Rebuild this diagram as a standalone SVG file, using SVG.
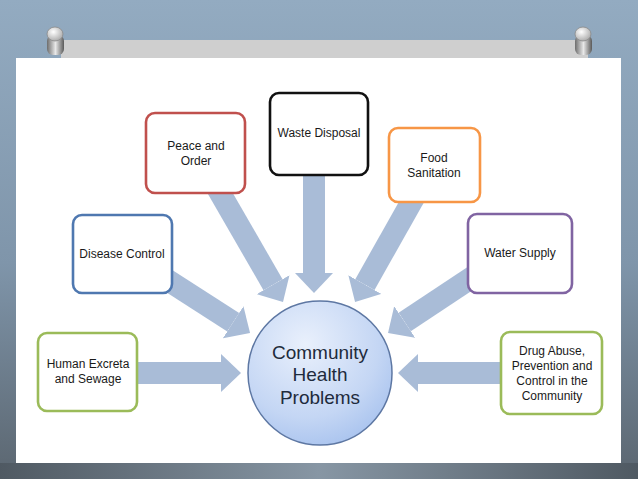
<svg xmlns="http://www.w3.org/2000/svg" width="638" height="479" viewBox="0 0 638 479">
  <style>
    .box { fill: #ffffff; stroke-width: 2.6; }
    .lbl { font-family: "Liberation Sans", Arial, sans-serif; font-size: 12px; fill: #1a1a1a; text-anchor: middle; }
    .big { font-family: "Liberation Sans", Arial, sans-serif; font-size: 19px; fill: #1e2b3c; text-anchor: middle; }
    .arr { stroke: #a9bcd7; stroke-width: 22; fill: none; stroke-linecap: butt; }
  </style>
  <defs>
    <linearGradient id="bg" x1="0" y1="0" x2="0" y2="1">
      <stop offset="0" stop-color="#93abc1"/>
      <stop offset="0.55" stop-color="#7f95aa"/>
      <stop offset="1" stop-color="#5b6670"/>
    </linearGradient>
    <linearGradient id="bgb" x1="0" y1="0" x2="1" y2="0">
      <stop offset="0" stop-color="#4f5962"/>
      <stop offset="0.5" stop-color="#8796a4"/>
      <stop offset="1" stop-color="#4f5962"/>
    </linearGradient>
    <radialGradient id="ball" cx="0.4" cy="0.3" r="0.85">
      <stop offset="0" stop-color="#e9f0fc"/>
      <stop offset="0.6" stop-color="#c4d6f4"/>
      <stop offset="1" stop-color="#9dbbec"/>
    </radialGradient>
    <linearGradient id="pinbody" x1="0" y1="0" x2="1" y2="0">
      <stop offset="0" stop-color="#6d6d6d"/>
      <stop offset="0.5" stop-color="#e8e8e8"/>
      <stop offset="1" stop-color="#5a5a5a"/>
    </linearGradient>
    <radialGradient id="pinhead" cx="0.4" cy="0.35" r="0.7">
      <stop offset="0" stop-color="#ffffff"/>
      <stop offset="1" stop-color="#a8a8a8"/>
    </radialGradient>
    <marker id="head" markerUnits="userSpaceOnUse" markerWidth="20" markerHeight="38" viewBox="0 0 20 38" refX="0" refY="19" orient="auto">
      <path d="M0,0 L20,19 L0,38 Z" fill="#a9bcd7"/>
    </marker>
  </defs>

  <rect x="0" y="0" width="638" height="479" fill="url(#bg)"/>
  <rect x="0" y="463" width="638" height="16" fill="url(#bgb)"/>
  <rect x="61" y="40" width="527" height="18" fill="#cfcfcf"/>
  <rect x="16" y="58" width="605" height="405" fill="#ffffff"/>

  <g id="pins">
    <rect x="47" y="35" width="17" height="20" rx="6" fill="url(#pinbody)"/>
    <ellipse cx="55" cy="34" rx="8" ry="7" fill="url(#pinhead)" stroke="#8a8a8a" stroke-width="0.8"/>
    <rect x="575" y="35" width="17" height="20" rx="6" fill="url(#pinbody)"/>
    <ellipse cx="583" cy="34" rx="8" ry="7" fill="url(#pinhead)" stroke="#8a8a8a" stroke-width="0.8"/>
  </g>

  <g id="connectors">
    <line class="arr" x1="314" y1="170" x2="314" y2="273" marker-end="url(#head)"/>
    <line class="arr" x1="215" y1="184.3" x2="273" y2="284.7" marker-end="url(#head)"/>
    <line class="arr" x1="416" y1="194" x2="364.9" y2="284.6" marker-end="url(#head)"/>
    <line class="arr" x1="163.6" y1="277.6" x2="233.2" y2="322.2" marker-end="url(#head)"/>
    <line class="arr" x1="476.3" y1="274.5" x2="404.7" y2="322" marker-end="url(#head)"/>
    <line class="arr" x1="130" y1="373" x2="221" y2="373" marker-end="url(#head)"/>
    <line class="arr" x1="508" y1="373" x2="418" y2="373" marker-end="url(#head)"/>
  </g>

  <g id="node-human">
    <rect class="box" x="38" y="333" width="99" height="78" rx="9" stroke="#9bbb59"/>
    <text class="lbl" x="88" y="368">Human Excreta</text>
    <text class="lbl" x="88" y="383">and Sewage</text>
  </g>
  <g id="node-disease">
    <rect class="box" x="73" y="215" width="99" height="78" rx="9" stroke="#4f78b0"/>
    <text class="lbl" x="122" y="258">Disease Control</text>
  </g>
  <g id="node-peace">
    <rect class="box" x="146" y="113" width="99" height="80" rx="9" stroke="#c0504d"/>
    <text class="lbl" x="196" y="150">Peace and</text>
    <text class="lbl" x="196" y="165">Order</text>
  </g>
  <g id="node-waste">
    <rect class="box" x="270" y="93" width="98" height="82" rx="9" stroke="#111111" stroke-width="3"/>
    <text class="lbl" x="319" y="137">Waste Disposal</text>
  </g>
  <g id="node-food">
    <rect class="box" x="389" y="128" width="91" height="74" rx="9" stroke="#f79646"/>
    <text class="lbl" x="434" y="162">Food</text>
    <text class="lbl" x="434" y="177">Sanitation</text>
  </g>
  <g id="node-water">
    <rect class="box" x="468" y="214" width="104" height="79" rx="9" stroke="#8064a2"/>
    <text class="lbl" x="520" y="257">Water Supply</text>
  </g>
  <g id="node-drug">
    <rect class="box" x="501" y="332" width="101" height="82" rx="9" stroke="#9bbb59"/>
    <text class="lbl" x="552" y="355">Drug Abuse,</text>
    <text class="lbl" x="552" y="370">Prevention and</text>
    <text class="lbl" x="552" y="385">Control in the</text>
    <text class="lbl" x="552" y="400">Community</text>
  </g>
  <g id="node-center">
    <circle cx="320" cy="373" r="72" fill="url(#ball)" stroke="#5d77a3" stroke-width="1.5"/>
    <text class="big" x="320" y="359">Community</text>
    <text class="big" x="320" y="381">Health</text>
    <text class="big" x="320" y="404">Problems</text>
  </g>
</svg>
